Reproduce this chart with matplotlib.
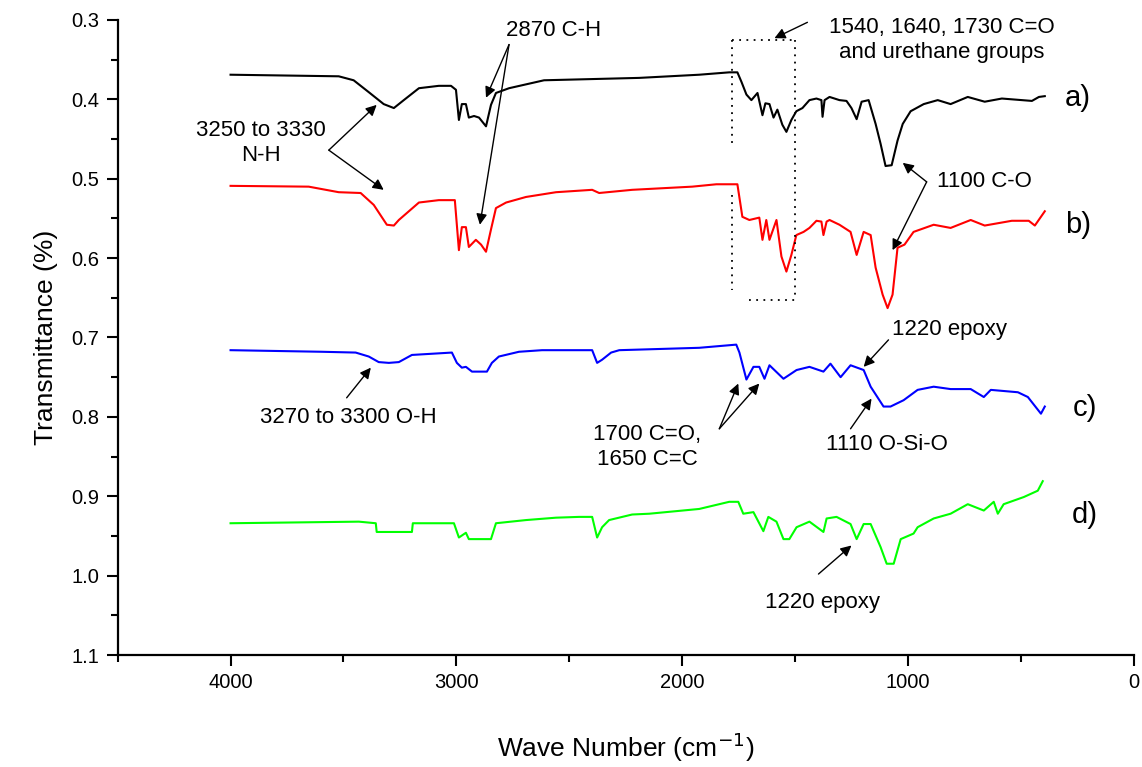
import matplotlib
matplotlib.use("Agg")
import matplotlib.pyplot as plt
from matplotlib.ticker import FixedLocator

plt.rcParams['font.family'] = ['Liberation Sans', 'DejaVu Sans']

# ---- data (wavenumber cm-1, transmittance) ----
wn_a = [4000, 3521, 3455, 3388, 3322, 3277, 3233, 3166, 3078, 3024, 3002, 2989, 2976, 2958, 2945, 2922, 2900,
        2869, 2847, 2825, 2767, 2612, 2191, 1925, 1792, 1756, 1738, 1716, 1694, 1667, 1645, 1632, 1614, 1596,
        1579, 1557, 1539, 1517, 1495, 1468, 1437, 1406, 1384, 1379, 1370, 1348, 1304, 1273, 1251, 1228, 1206,
        1175, 1144, 1122, 1100, 1073, 1047, 1024, 989, 931, 869, 812, 736, 661, 585, 452, 421, 395]
t_a = [0.369, 0.371, 0.376, 0.391, 0.406, 0.411, 0.401, 0.386, 0.383, 0.383, 0.388, 0.426, 0.406, 0.406, 0.423,
       0.421, 0.423, 0.434, 0.407, 0.392, 0.386, 0.376, 0.373, 0.369, 0.366, 0.366, 0.378, 0.394, 0.401, 0.392,
       0.420, 0.405, 0.406, 0.423, 0.413, 0.432, 0.441, 0.426, 0.415, 0.411, 0.401, 0.399, 0.401, 0.422, 0.401,
       0.397, 0.401, 0.402, 0.411, 0.425, 0.403, 0.401, 0.431, 0.456, 0.484, 0.483, 0.452, 0.431, 0.415, 0.406,
       0.401, 0.406, 0.397, 0.403, 0.399, 0.402, 0.397, 0.396]

wn_b = [4000, 3654, 3521, 3424, 3366, 3308, 3277, 3255, 3166, 3078, 3007, 2989, 2976, 2958, 2945, 2914, 2891,
        2869, 2847, 2825, 2780, 2692, 2559, 2399, 2368, 2222, 1956, 1849, 1756, 1734, 1703, 1659, 1645, 1628,
        1614, 1583, 1561, 1539, 1517, 1495, 1463, 1437, 1406, 1384, 1375, 1361, 1348, 1304, 1255, 1228, 1197,
        1166, 1144, 1113, 1091, 1069, 1047, 1016, 976, 887, 812, 723, 661, 541, 466, 439, 395]
t_b = [0.509, 0.510, 0.517, 0.518, 0.533, 0.558, 0.559, 0.552, 0.530, 0.527, 0.527, 0.590, 0.561, 0.561, 0.586,
       0.577, 0.583, 0.592, 0.564, 0.537, 0.530, 0.523, 0.517, 0.514, 0.518, 0.514, 0.510, 0.507, 0.507, 0.548,
       0.552, 0.549, 0.577, 0.552, 0.577, 0.552, 0.598, 0.617, 0.596, 0.571, 0.567, 0.562, 0.553, 0.554, 0.571,
       0.554, 0.552, 0.558, 0.567, 0.596, 0.567, 0.571, 0.612, 0.646, 0.663, 0.646, 0.587, 0.583, 0.567, 0.558,
       0.562, 0.552, 0.559, 0.553, 0.553, 0.559, 0.541]

wn_c = [4000, 3596, 3446, 3388, 3344, 3299, 3255, 3197, 3020, 2998, 2976, 2958, 2931, 2865, 2843, 2812, 2723,
        2621, 2399, 2377, 2355, 2315, 2279, 1925, 1761, 1747, 1716, 1685, 1659, 1636, 1614, 1552, 1494, 1437,
        1375, 1344, 1299, 1255, 1197, 1166, 1109, 1078, 1020, 958, 887, 812, 723, 665, 634, 514, 470, 412, 395]
t_c = [0.716, 0.718, 0.719, 0.724, 0.731, 0.732, 0.731, 0.722, 0.719, 0.732, 0.738, 0.737, 0.743, 0.743, 0.732,
       0.724, 0.718, 0.716, 0.716, 0.732, 0.728, 0.719, 0.716, 0.713, 0.709, 0.719, 0.753, 0.737, 0.737, 0.752,
       0.735, 0.752, 0.741, 0.737, 0.743, 0.733, 0.750, 0.735, 0.741, 0.762, 0.787, 0.787, 0.779, 0.766, 0.762,
       0.765, 0.765, 0.775, 0.766, 0.769, 0.775, 0.796, 0.787]

wn_d = [4000, 3432, 3357, 3353, 3197, 3193, 3011, 2989, 2958, 2945, 2847, 2825, 2692, 2559, 2457, 2399, 2377,
        2355, 2324, 2222, 2146, 1925, 1792, 1752, 1730, 1685, 1641, 1619, 1583, 1552, 1526, 1494, 1437, 1375,
        1361, 1317, 1255, 1228, 1197, 1166, 1122, 1095, 1064, 1033, 976, 958, 887, 812, 736, 665, 621, 603,
        577, 488, 426, 404]
t_d = [0.934, 0.932, 0.934, 0.945, 0.945, 0.934, 0.934, 0.952, 0.946, 0.954, 0.954, 0.934, 0.930, 0.927, 0.926,
       0.926, 0.952, 0.939, 0.930, 0.923, 0.922, 0.916, 0.907, 0.907, 0.922, 0.920, 0.944, 0.926, 0.932, 0.954,
       0.954, 0.939, 0.932, 0.945, 0.928, 0.926, 0.935, 0.954, 0.935, 0.935, 0.964, 0.985, 0.985, 0.954, 0.947,
       0.939, 0.928, 0.922, 0.910, 0.918, 0.907, 0.922, 0.910, 0.901, 0.893, 0.881]

series_labels = ['a)', 'b)', 'c)', 'd)']
series_colors = ['black', '#ff0000', '#0000ff', '#00ff00']

y_ticks = [0.3, 0.4, 0.5, 0.6, 0.7, 0.8, 0.9, 1.0, 1.1]
x_ticks = [4000, 3000, 2000, 1000, 0]

fig = plt.figure(figsize=(11.42, 7.67), dpi=100)
ax = fig.add_axes([0.103, 0.146, 0.890, 0.828])

for wn, t, c in zip([wn_a, wn_b, wn_c, wn_d], [t_a, t_b, t_c, t_d], series_colors):
    ax.plot(wn, t, color=c, lw=1.5)

ax.set_xlim(4500, 0)
ax.set_ylim(1.1, 0.3)
ax.set_yticks(y_ticks)
ax.set_yticklabels([f"{v:.1f}" for v in y_ticks])
ax.yaxis.set_minor_locator(FixedLocator([0.35, 0.45, 0.55, 0.65, 0.75, 0.85, 0.95, 1.05]))
ax.set_xticks(x_ticks)
ax.xaxis.set_minor_locator(FixedLocator([4500, 3500, 2500, 1500, 500]))

for s in ['top', 'right']:
    ax.spines[s].set_visible(False)
for s in ['left', 'bottom']:
    ax.spines[s].set_linewidth(1.6)
ax.tick_params(which='major', direction='out', length=8, width=1.5, labelsize=14.5, pad=5)
ax.tick_params(which='minor', direction='out', length=5, width=1.5)

ax.set_ylabel('Transmittance (%)', fontsize=19, labelpad=10)
ax.set_xlabel('Wave Number (cm$^{-1}$)', fontsize=19, labelpad=28)

# series labels
lab_pos = [(248, 0.398), (248, 0.558), (217, 0.789), (217, 0.923)]
for (x, y), lab in zip(lab_pos, series_labels):
    ax.text(x, y, lab, fontsize=21, ha='center', va='center')

ap = dict(arrowstyle='-|>', color='black', lw=1.0, mutation_scale=16, shrinkA=0, shrinkB=0)
fs = 16

def annot(text, tpos, start, tips, ha='center'):
    ax.text(tpos[0], tpos[1], text, fontsize=fs, ha=ha, va='center', linespacing=1.25)
    for tip in tips:
        ax.annotate('', xy=tip, xytext=start, arrowprops=ap)

annot('3250 to 3330\nN-H', (3867, 0.455), (3565, 0.464), [(3353, 0.407), (3322, 0.514)])
annot('2870 C-H', (2568, 0.313), (2767, 0.331), [(2869, 0.398), (2896, 0.558)])
annot('1540, 1640, 1730 C=O\nand urethane groups', (851, 0.325), (1446, 0.303), [(1592, 0.323)])
annot('1100 C-O', (661, 0.504), (918, 0.504), [(1024, 0.480), (1069, 0.590)])
annot('3270 to 3300 O-H', (3477, 0.801), (3486, 0.776), [(3379, 0.738)])
annot('1700 C=O,\n1650 C=C', (2155, 0.838), (1836, 0.815), [(1752, 0.758), (1659, 0.758)])
annot('1220 epoxy', (816, 0.690), (1087, 0.703), [(1197, 0.737)])
annot('1110 O-Si-O', (1095, 0.835), (1255, 0.815), [(1162, 0.777)])
annot('1220 epoxy', (1379, 1.034), (1397, 0.998), [(1251, 0.962)])

# dotted box
dot = dict(color='black', lw=1.3, ls=(0, (1, 3)))
ax.plot([1778, 1503], [0.325, 0.325], **dot)
ax.plot([1503, 1503], [0.325, 0.653], **dot)
ax.plot([1703, 1503], [0.653, 0.653], **dot)
ax.plot([1778, 1778], [0.325, 0.457], **dot)
ax.plot([1778, 1778], [0.520, 0.640], **dot)

fig.savefig('out.png', dpi=100)
